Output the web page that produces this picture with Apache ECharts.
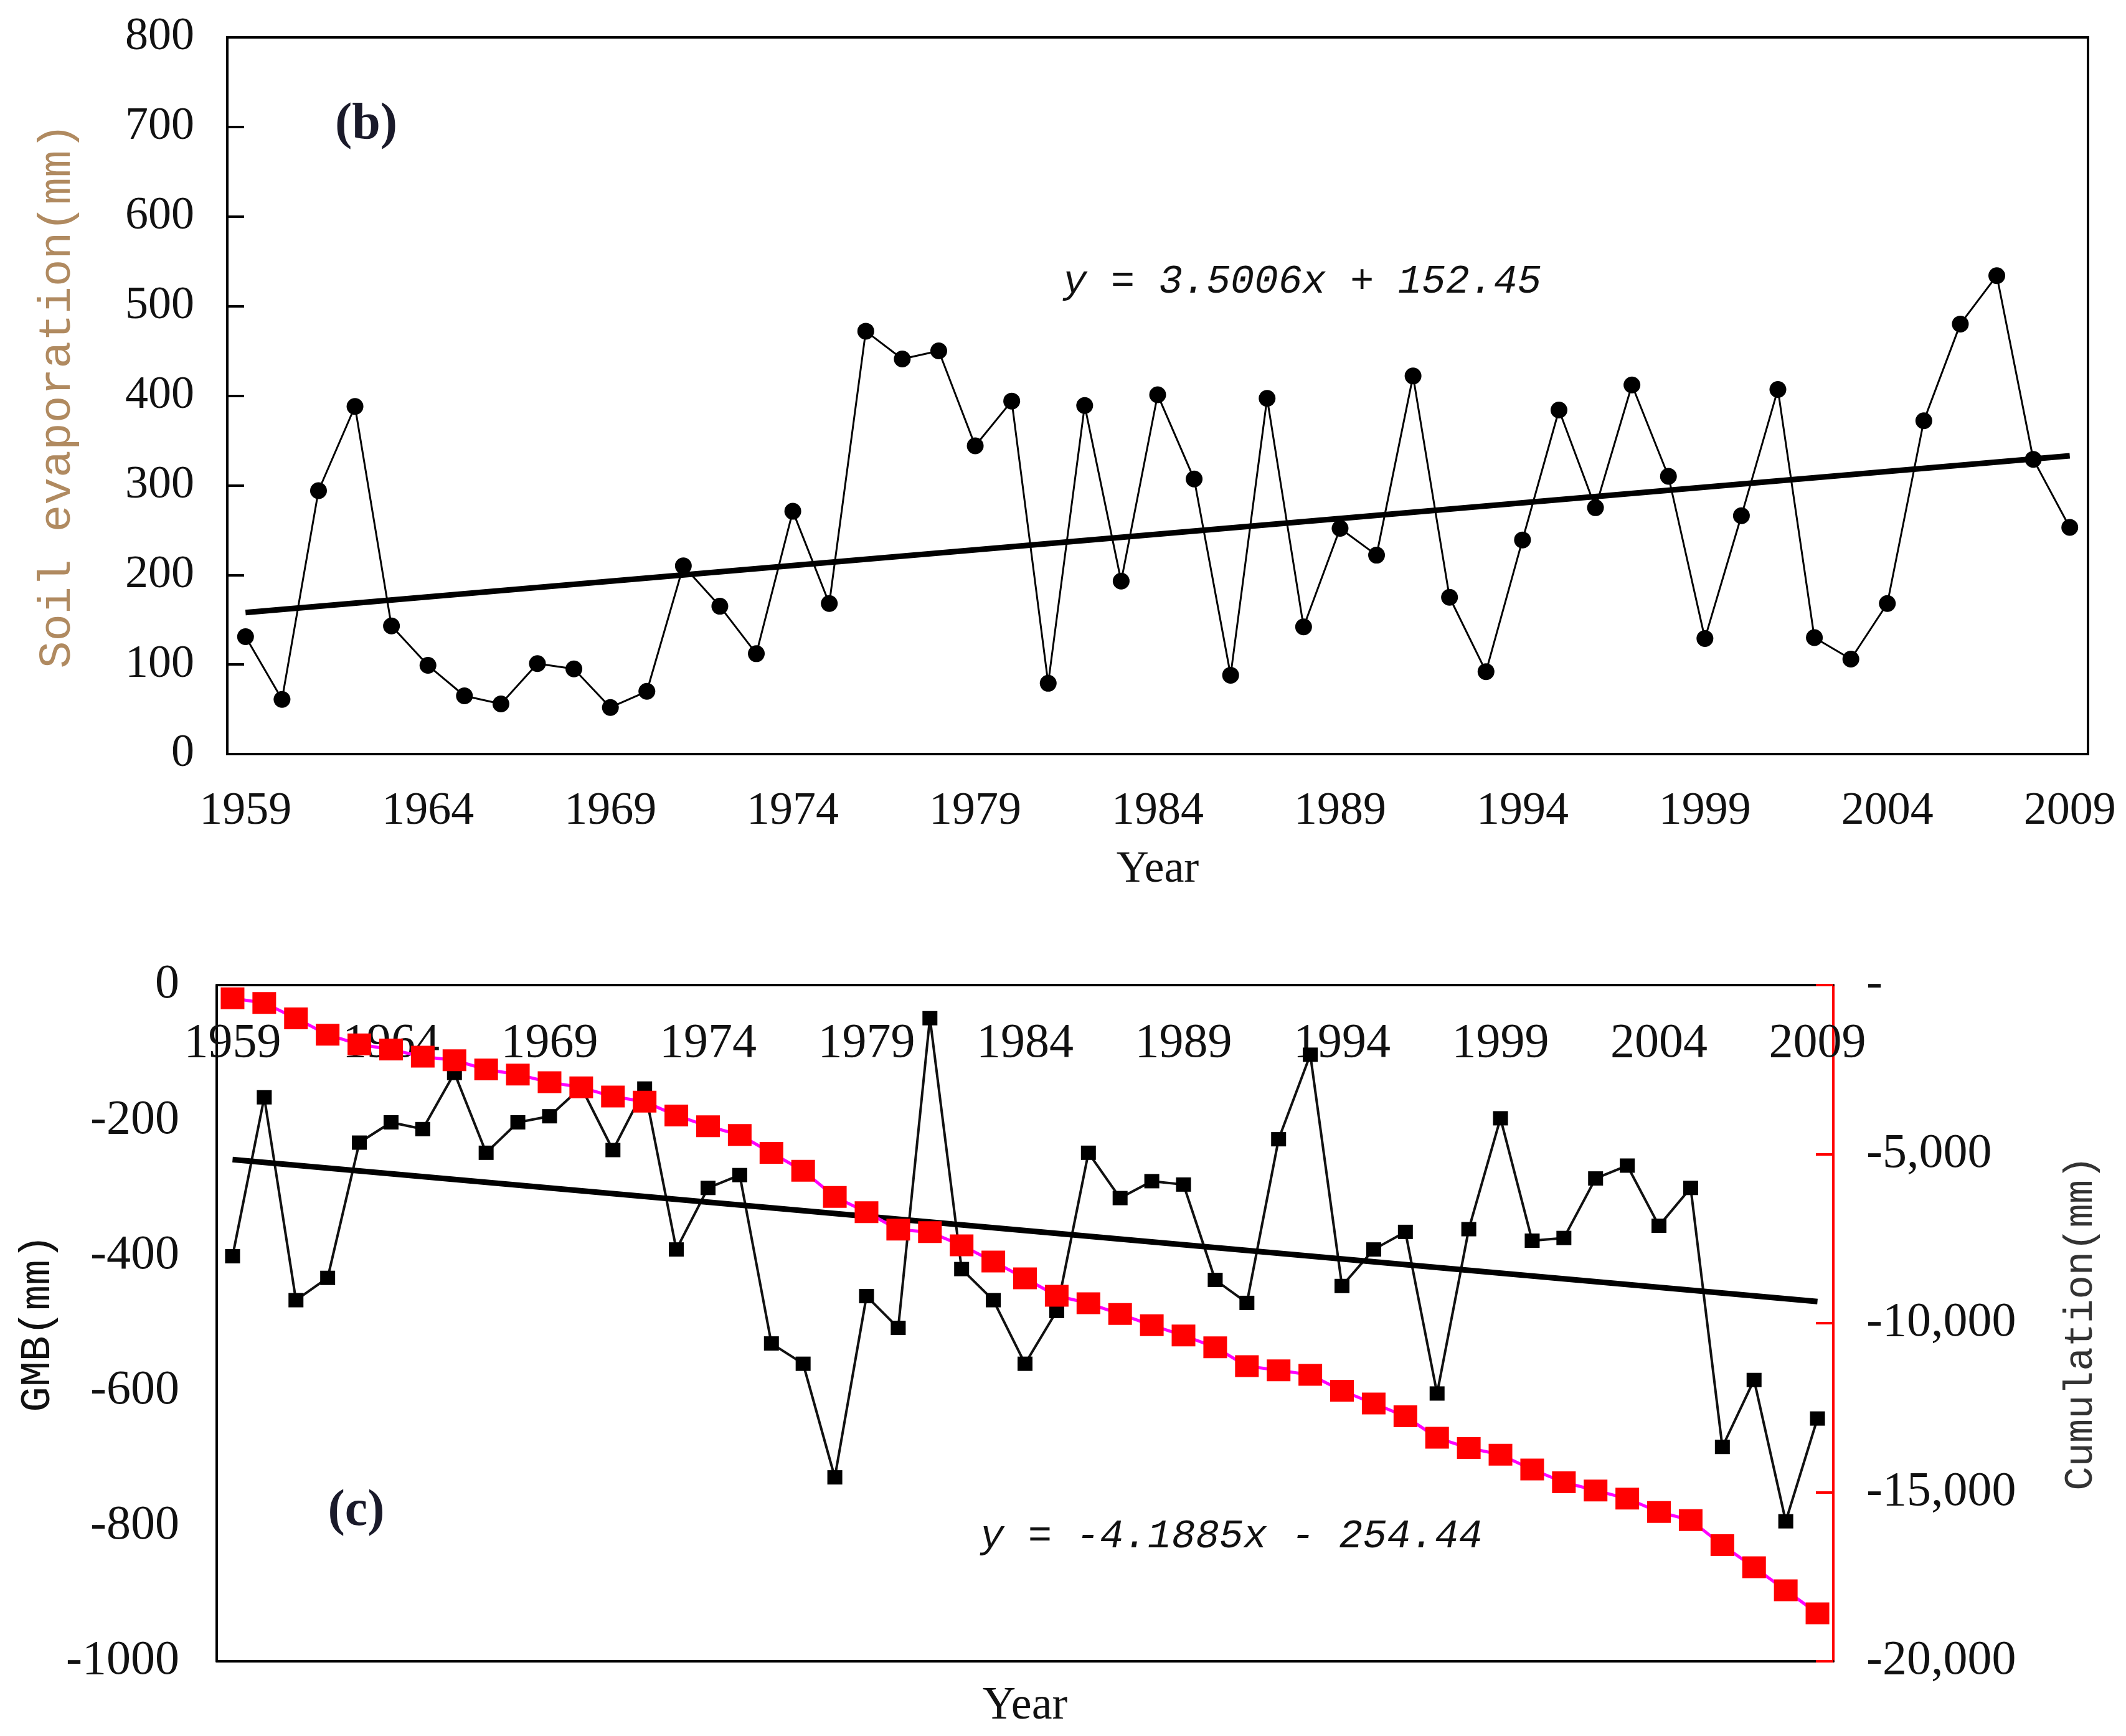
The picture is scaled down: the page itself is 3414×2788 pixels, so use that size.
<!DOCTYPE html>
<html>
<head>
<meta charset="utf-8">
<script src="https://cdn.jsdelivr.net/npm/echarts@6/dist/echarts.min.js"></script>
<style>
  html, body { margin: 0; padding: 0; background: #fff; }
  #chart { width: 3414px; height: 2788px; }
</style>
</head>
<body>
<div id="chart"></div>
<script>
const years = ['1959','1960','1961','1962','1963','1964','1965','1966','1967','1968',
  '1969','1970','1971','1972','1973','1974','1975','1976','1977','1978',
  '1979','1980','1981','1982','1983','1984','1985','1986','1987','1988',
  '1989','1990','1991','1992','1993','1994','1995','1996','1997','1998',
  '1999','2000','2001','2002','2003','2004','2005','2006','2007','2008','2009']

// (b) soil evaporation, mm
const soilEvap = [131, 61, 294, 388, 143, 99, 65, 56, 101, 95,
  52, 70, 210, 165, 112, 271, 168, 472, 441, 450,
  344, 394, 79, 389, 193, 401, 307, 88, 397, 142,
  252, 222, 422, 175, 92, 239, 384, 275, 412, 310,
  129, 266, 407, 130, 106, 168, 372, 480, 534, 329, 253]
// trend line ends (1959, 2009)
const soilTrend = [158, 333]

// (c) glacier mass balance, mm
const gmb = [-401, -166, -466, -433, -233, -203, -213, -130, -248, -203,
  -194, -151, -244, -153, -391, -300, -281, -530, -560, -728,
  -460, -507, -49, -420, -466, -560, -482, -248, -315, -290,
  -295, -436, -470, -228, -103, -445, -391, -365, -604, -361,
  -197, -378, -374, -286, -267, -356, -300, -683, -584, -793, -641]
// cumulative, mm (right axis)
const cumulation = [-393, -530, -983, -1468, -1755, -1906, -2118, -2224, -2496, -2648,
  -2875, -3026, -3298, -3450, -3858, -4176, -4433, -4963, -5492, -6264,
  -6718, -7232, -7308, -7698, -8177, -8674, -9190, -9411, -9729, -10062,
  -10364, -10712, -11272, -11393, -11529, -11998, -12376, -12755, -13390, -13693,
  -13889, -14328, -14706, -14948, -15190, -15584, -15826, -16567, -17218, -17899, -18580]
const gmbTrend = [-258, -468]

const eqB = 'y = 3.5006x + 152.45'
const eqC = 'y = -4.1885x - 254.44'

const serif = 'Liberation Serif'
const mono = 'Liberation Mono'
const black = '#000'

const chart = echarts.init(document.getElementById('chart'), null, { width: 3414, height: 2788 })

const option = {
  backgroundColor: '#fff',
  animation: false,
  grid: [
    { left: 365, top: 60, width: 2988, height: 1151, show: true, borderColor: black, borderWidth: 4, outerBoundsMode: 'none' },
    { left: 348, top: 1582, width: 2596, height: 1086, show: false, outerBoundsMode: 'none' }
  ],
  xAxis: [
    {
      gridIndex: 0, type: 'category', data: years, boundaryGap: true,
      name: 'Year', nameLocation: 'middle', nameGap: 150,
      nameTextStyle: { fontFamily: serif, fontSize: 72, color: '#111' },
      axisLine: { lineStyle: { color: black, width: 4 } },
      axisTick: { inside: true, interval: 1, length: 30, lineStyle: { color: black, width: 4 } },
      axisLabel: { interval: 4, margin: 56, fontFamily: serif, fontSize: 74, color: '#111' },
      splitLine: { show: false }
    },
    {
      gridIndex: 1, type: 'category', data: years, boundaryGap: true, position: 'top',
      axisLine: { onZero: false, lineStyle: { color: black, width: 4 } },
      axisTick: { interval: 4, length: 31, lineStyle: { color: black, width: 4 } },
      axisLabel: { inside: true, interval: 4, margin: 56, fontFamily: serif, fontSize: 78, color: '#111' },
      splitLine: { show: false }
    },
    {
      gridIndex: 1, type: 'category', data: years, boundaryGap: true, position: 'bottom',
      name: 'Year', nameLocation: 'middle', nameGap: 36,
      nameTextStyle: { fontFamily: serif, fontSize: 74, color: '#111' },
      axisLine: { onZero: false, lineStyle: { color: black, width: 4 } },
      axisTick: { show: false },
      axisLabel: { show: false },
      splitLine: { show: false }
    }
  ],
  yAxis: [
    {
      gridIndex: 0, type: 'value', min: 0, max: 800, interval: 100,
      name: 'Soil evaporation(mm)', nameLocation: 'middle', nameGap: 236, nameRotate: 90,
      nameTextStyle: { fontFamily: mono, fontSize: 73, color: '#b08a60' },
      axisLine: { show: true, lineStyle: { color: black, width: 4 } },
      axisTick: { show: true, inside: true, length: 27, lineStyle: { color: black, width: 4 } },
      axisLabel: { margin: 53, fontFamily: serif, fontSize: 74, color: '#111' },
      splitLine: { show: false }
    },
    {
      gridIndex: 1, type: 'value', min: -1000, max: 0, interval: 200,
      name: 'GMB(mm)', nameLocation: 'middle', nameGap: 250, nameRotate: 90,
      nameTextStyle: { fontFamily: mono, fontSize: 68, color: '#111' },
      axisLine: { show: true, onZero: false, lineStyle: { color: black, width: 4 } },
      axisTick: { show: false },
      axisLabel: { margin: 60, fontFamily: serif, fontSize: 78, color: '#111', formatter: v => String(v) },
      splitLine: { show: false }
    },
    {
      gridIndex: 1, type: 'value', position: 'right', min: -20000, max: 0, interval: 5000,
      name: 'Cumulation(mm)', nameLocation: 'middle', nameGap: 366, nameRotate: 90,
      nameTextStyle: { fontFamily: mono, fontSize: 64, color: '#333' },
      axisLine: { show: true, onZero: false, lineStyle: { color: '#ff0000', width: 4 } },
      axisTick: { show: true, inside: true, length: 28, lineStyle: { color: '#ff0000', width: 4 } },
      axisLabel: {
        margin: 53, fontFamily: serif, fontSize: 78, color: '#111',
        formatter: v => v === 0 ? '-' : '-' + Math.abs(v).toLocaleString('en-US')
      },
      splitLine: { show: false }
    }
  ],
  series: [
    {
      type: 'line', xAxisIndex: 0, yAxisIndex: 0, data: soilEvap,
      symbol: 'circle', symbolSize: 27, showAllSymbol: true,
      itemStyle: { color: black },
      lineStyle: { color: black, width: 3 },
      z: 3
    },
    {
      type: 'line', xAxisIndex: 0, yAxisIndex: 0,
      data: [[years[0], soilTrend[0]], [years[years.length - 1], soilTrend[1]]],
      symbol: 'none', lineStyle: { color: black, width: 9 }, z: 4
    },
    {
      type: 'line', xAxisIndex: 1, yAxisIndex: 1, data: gmb,
      symbol: 'rect', symbolSize: [24, 23], showAllSymbol: true,
      itemStyle: { color: black },
      lineStyle: { color: '#111', width: 4 },
      z: 3
    },
    {
      type: 'line', xAxisIndex: 1, yAxisIndex: 1,
      data: [[years[0], gmbTrend[0]], [years[years.length - 1], gmbTrend[1]]],
      symbol: 'none', lineStyle: { color: black, width: 9 }, z: 4
    },
    {
      type: 'line', xAxisIndex: 1, yAxisIndex: 2, data: cumulation,
      symbol: 'rect', symbolSize: [38, 35], showAllSymbol: true,
      itemStyle: { color: '#ff0000' },
      lineStyle: { color: '#ff00ff', width: 5 },
      z: 5
    }
  ],
  graphic: [
    { type: 'text', x: 588, y: 201, z: 10,
      style: { text: '(b)', font: 'bold 82px "Liberation Serif"', fill: '#1a1a2a', align: 'center', verticalAlign: 'middle' } },
    { type: 'text', x: 572, y: 2428, z: 10,
      style: { text: '(c)', font: 'bold 82px "Liberation Serif"', fill: '#1a1a2a', align: 'center', verticalAlign: 'middle' } },
    { type: 'text', x: 1707, y: 453, z: 10,
      style: { text: eqB, font: 'italic 64px "Liberation Mono"', fill: '#111', align: 'left', verticalAlign: 'middle' } },
    { type: 'text', x: 1574, y: 2468, z: 10,
      style: { text: eqC, font: 'italic 64px "Liberation Mono"', fill: '#111', align: 'left', verticalAlign: 'middle' } }
  ]
}

chart.setOption(option)
</script>
</body>
</html>
